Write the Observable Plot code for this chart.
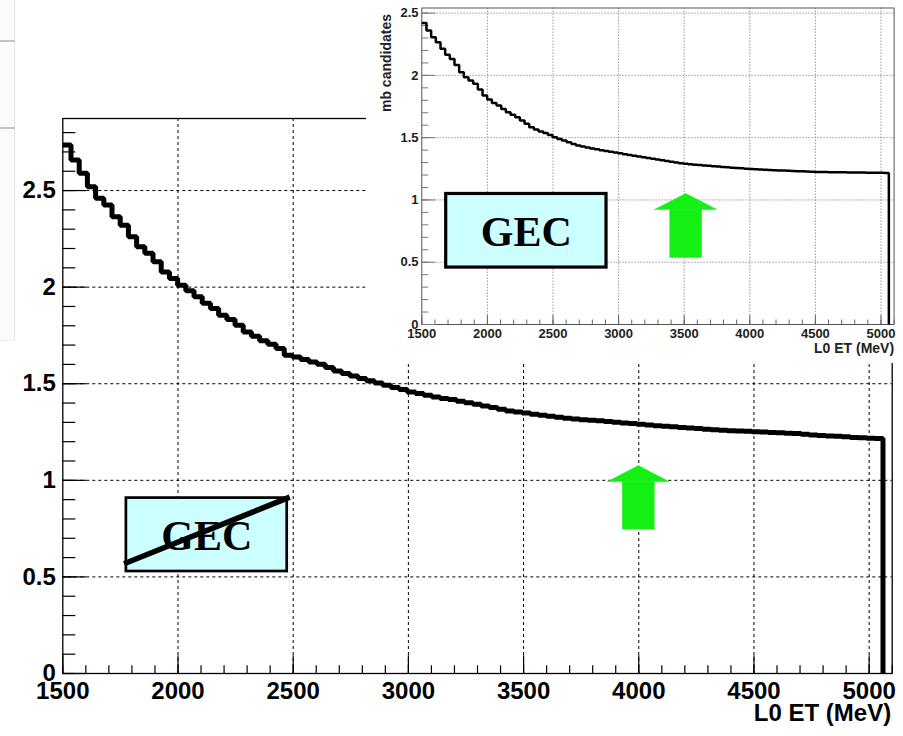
<!DOCTYPE html>
<html>
<head>
<meta charset="utf-8">
<script src="https://cdn.jsdelivr.net/npm/d3@7"></script>
<script src="https://cdn.jsdelivr.net/npm/@observablehq/plot@0.6"></script>
<style>
  html, body { margin: 0; padding: 0; background: #fff; }
  #wrap { position: relative; width: 903px; height: 736px; overflow: hidden; background: #fff; }
  #main { position: absolute; left: 0; top: 0; width: 903px; height: 736px; }
  #inset { position: absolute; left: 366px; top: 0; width: 537px; height: 363px; background: #fff; }
  .deco { position: absolute; }
</style>
</head>
<body>
<div id="wrap">
  <div id="main"></div>
  <div id="inset"></div>
  <div class="deco" style="left:0;top:0;width:14px;height:340px;background:#fbfbfb;border-right:1px solid #e6e6e6;border-bottom:1px solid #eeeeee;"></div>
  <div class="deco" style="left:0;top:40px;width:15px;height:2px;background:#c4c4c4;"></div>
  <div class="deco" style="left:0;top:127px;width:15px;height:2px;background:#c4c4c4;"></div>
</div>
<script>
// ---------------- data ----------------
const binStart = 1500;   // MeV, low edge of first bin
const binWidth = 35.6;   // MeV per bin

// main (large) histogram: mb candidates per bin of L0 ET
const mainCounts = [
  2.736, 2.658, 2.589, 2.520, 2.460, 2.425, 2.364, 2.321, 2.261, 2.209,
  2.175, 2.131, 2.079, 2.045, 2.010, 1.981, 1.950, 1.916, 1.890, 1.855,
  1.833, 1.803, 1.768, 1.746, 1.722, 1.705, 1.682, 1.648, 1.638, 1.625,
  1.612, 1.601, 1.584, 1.566, 1.553, 1.540, 1.527, 1.515, 1.504, 1.492,
  1.480, 1.470, 1.457, 1.449, 1.440, 1.431, 1.424, 1.418, 1.409, 1.401,
  1.394, 1.385, 1.377, 1.368, 1.359, 1.354, 1.349, 1.342, 1.337, 1.332,
  1.326, 1.321, 1.317, 1.314, 1.311, 1.308, 1.305, 1.301, 1.297, 1.294,
  1.290, 1.287, 1.283, 1.280, 1.277, 1.274, 1.271, 1.268, 1.265, 1.262,
  1.259, 1.257, 1.255, 1.254, 1.252, 1.250, 1.248, 1.246, 1.244, 1.242,
  1.238, 1.235, 1.232, 1.230, 1.228, 1.225, 1.222, 1.220, 1.218, 1.216
];

// inset histogram (with GEC)
const insetCounts = [
  2.421, 2.360, 2.306, 2.266, 2.213, 2.165, 2.132, 2.084, 2.025, 1.985,
  1.958, 1.932, 1.886, 1.838, 1.806, 1.779, 1.758, 1.731, 1.704, 1.683,
  1.664, 1.637, 1.611, 1.584, 1.565, 1.549, 1.538, 1.522, 1.503, 1.490,
  1.477, 1.463, 1.450, 1.437, 1.429, 1.421, 1.413, 1.406, 1.399, 1.392,
  1.386, 1.380, 1.374, 1.367, 1.361, 1.355, 1.349, 1.343, 1.337, 1.331,
  1.325, 1.319, 1.313, 1.307, 1.301, 1.295, 1.290, 1.286, 1.283, 1.280,
  1.277, 1.274, 1.271, 1.268, 1.265, 1.262, 1.259, 1.256, 1.254, 1.251,
  1.249, 1.247, 1.245, 1.243, 1.241, 1.239, 1.237, 1.236, 1.234, 1.233,
  1.231, 1.230, 1.228, 1.227, 1.225, 1.224, 1.224, 1.223, 1.223, 1.222,
  1.222, 1.221, 1.221, 1.220, 1.220, 1.219, 1.219, 1.219, 1.218, 1.217
];

const xMajorTicks = [1500, 2000, 2500, 3000, 3500, 4000, 4500, 5000];
const yMajorTicks = [0, 0.5, 1, 1.5, 2, 2.5];
const xMinorTicks = d3.range(15, 52).map(i => i * 100);
const yMinorTicksMain = d3.range(0, 29).map(i => i / 10);
const yMinorTicksInset = d3.range(0, 26).map(i => i / 10);

const xTitle = "L0 ET (MeV)";
const yTitleInset = "mb candidates";
const boxLabel = "GEC";

// annotations (data coordinates)
const mainBox = {x1: 1776, x2: 2474, y1: 0.528, y2: 0.908, tx: 2125, ty: 0.711};
const mainStrike = {x1: 1766, y1: 0.568, x2: 2485, y2: 0.913};
const mainArrow = {x: 4000, tail: 0.745, neck: 0.991, tip: 1.074, shaftHalf: 69, headHalf: 133};
const insetBox = {x1: 1686, x2: 2908, y1: 0.457, y2: 1.048, tx: 2297, ty: 0.742};
const insetArrow = {x: 3515, tail: 0.535, neck: 0.92, tip: 1.048, shaftHalf: 121, headHalf: 237};

// ---------------- helpers ----------------
function steps(counts) {
  const pts = counts.map((v, i) => ({x: binStart + i * binWidth, y: v}));
  const end = binStart + counts.length * binWidth;
  pts.push({x: end, y: counts[counts.length - 1]});
  pts.push({x: end, y: 0});
  return pts;
}
const green = "#14f014";
function arrowMarks(a) {
  return [
    Plot.rect([a], {x1: d => d.x - d.shaftHalf, x2: d => d.x + d.shaftHalf, y1: "tail", y2: "neck",
      fill: green, stroke: green, strokeWidth: 0.5}),
    Plot.areaY([
      {x: a.x - a.headHalf, y1: a.neck, y2: a.neck},
      {x: a.x, y1: a.neck, y2: a.tip},
      {x: a.x + a.headHalf, y1: a.neck, y2: a.neck}
    ], {x: "x", y1: "y1", y2: "y2", fill: green, stroke: green, strokeWidth: 0.5, curve: "linear"})
  ];
}
function boxMarks(b, fontSize, sw) {
  return [
    Plot.rect([b], {x1: "x1", x2: "x2", y1: "y1", y2: "y2", fill: "#ccffff", stroke: "black", strokeWidth: sw}),
    Plot.text([b], {x: "tx", y: "ty", text: () => boxLabel, fontFamily: "'Liberation Serif', 'Times New Roman', serif",
      fontWeight: "bold", fontSize, fill: "black"})
  ];
}
const fmt = d => String(d);
const sans = "'Liberation Sans', Arial, Helvetica, sans-serif";

// ---------------- main chart ----------------
const main = Plot.plot({
  width: 903, height: 736,
  marginLeft: 62.3, marginRight: 11.3, marginTop: 118, marginBottom: 63,
  x: {domain: [1500, 5100], label: null},
  y: {domain: [0, 2.873], label: null},
  style: {fontFamily: sans, fontWeight: "bold", fontSize: "24px", color: "black", background: "transparent", maxWidth: "none", overflow: "visible"},
  marks: [
    Plot.ruleX(xMajorTicks.filter(d => d > 1500), {stroke: "black", strokeWidth: 1, strokeDasharray: "3,3"}),
    Plot.ruleY(yMajorTicks.filter(d => d > 0), {stroke: "black", strokeWidth: 1, strokeDasharray: "3,3"}),
    Plot.frame({stroke: "black", strokeWidth: 1.3}),
    Plot.axisX(xMinorTicks, {anchor: "bottom", tickSize: -7.7, tickFormat: () => "", stroke: "black", strokeWidth: 1.2, label: null}),
    Plot.axisX(xMajorTicks, {anchor: "bottom", tickSize: -17.7, tickPadding: 25.7, tickFormat: fmt, stroke: "black", strokeWidth: 1.2,
      fill: "black", fontSize: 24, fontWeight: "bold", label: null}),
    Plot.axisY(yMinorTicksMain, {anchor: "left", tickSize: -13, tickFormat: () => "", stroke: "black", strokeWidth: 1.2, label: null}),
    Plot.axisY(yMajorTicks, {anchor: "left", tickSize: -24, tickPadding: 31, tickFormat: fmt, stroke: "black", strokeWidth: 1.2,
      fill: "black", fontSize: 24, fontWeight: "bold", label: null}),
    ...boxMarks(mainBox, 42, 2.7),
    Plot.link([mainStrike], {x1: "x1", y1: "y1", x2: "x2", y2: "y2", stroke: "black", strokeWidth: 5.5}),
    ...arrowMarks(mainArrow),
    Plot.line(steps(mainCounts), {x: "x", y: "y", curve: "step-after", stroke: "black", strokeWidth: 5,
      strokeLinejoin: "miter", strokeLinecap: "butt"}),
    Plot.text([xTitle], {frameAnchor: "bottom-right", textAnchor: "end", dx: -1, dy: 47, fontSize: 24, fontWeight: "bold", fill: "black"})
  ]
});
document.getElementById("main").appendChild(main);

// ---------------- inset chart ----------------
const inset = Plot.plot({
  width: 537, height: 363,
  marginLeft: 55.3, marginRight: 9.4, marginTop: 7.5, marginBottom: 39,
  x: {domain: [1500, 5100], label: null},
  y: {domain: [0, 2.541], label: null},
  style: {fontFamily: sans, fontWeight: "bold", fontSize: "13px", color: "#222", background: "white", maxWidth: "none", overflow: "visible"},
  marks: [
    Plot.ruleX(xMajorTicks.filter(d => d > 1500), {stroke: "#9a9a9a", strokeWidth: 1, strokeDasharray: "1.5,1.5"}),
    Plot.ruleY(yMajorTicks.filter(d => d > 0), {stroke: "#9a9a9a", strokeWidth: 1, strokeDasharray: "1.5,1.5"}),
    Plot.frame({stroke: "#555", strokeWidth: 1}),
    Plot.axisX(xMinorTicks, {anchor: "bottom", tickSize: -4.5, tickFormat: () => "", stroke: "#666", label: null}),
    Plot.axisX(xMajorTicks, {anchor: "bottom", tickSize: -9, tickPadding: 13.5, tickFormat: fmt, stroke: "#666",
      fill: "#222", fontSize: 13, fontWeight: "bold", label: null}),
    Plot.axisY(yMinorTicksInset, {anchor: "left", tickSize: -7, tickFormat: () => "", stroke: "#777", label: null}),
    Plot.axisY(yMajorTicks, {anchor: "left", tickSize: -14, tickPadding: 17.3, tickFormat: fmt, stroke: "#777",
      fill: "#222", fontSize: 13, fontWeight: "bold", label: null}),
    ...boxMarks(insetBox, 42, 3.2),
    ...arrowMarks(insetArrow),
    Plot.line(steps(insetCounts), {x: "x", y: "y", curve: "step-after", stroke: "black", strokeWidth: 2.5,
      strokeLinejoin: "miter", strokeLinecap: "butt"}),
    Plot.text([xTitle], {frameAnchor: "bottom-right", textAnchor: "end", dx: 0, dy: 28.5, fontSize: 14, fontWeight: "bold", fill: "#222"}),
    Plot.text([yTitleInset], {frameAnchor: "top-left", rotate: -90, textAnchor: "end", dx: -41, dy: 6, fontSize: 14, fontWeight: "bold", fill: "#222"})
  ]
});
document.getElementById("inset").appendChild(inset);
</script>
</body>
</html>
